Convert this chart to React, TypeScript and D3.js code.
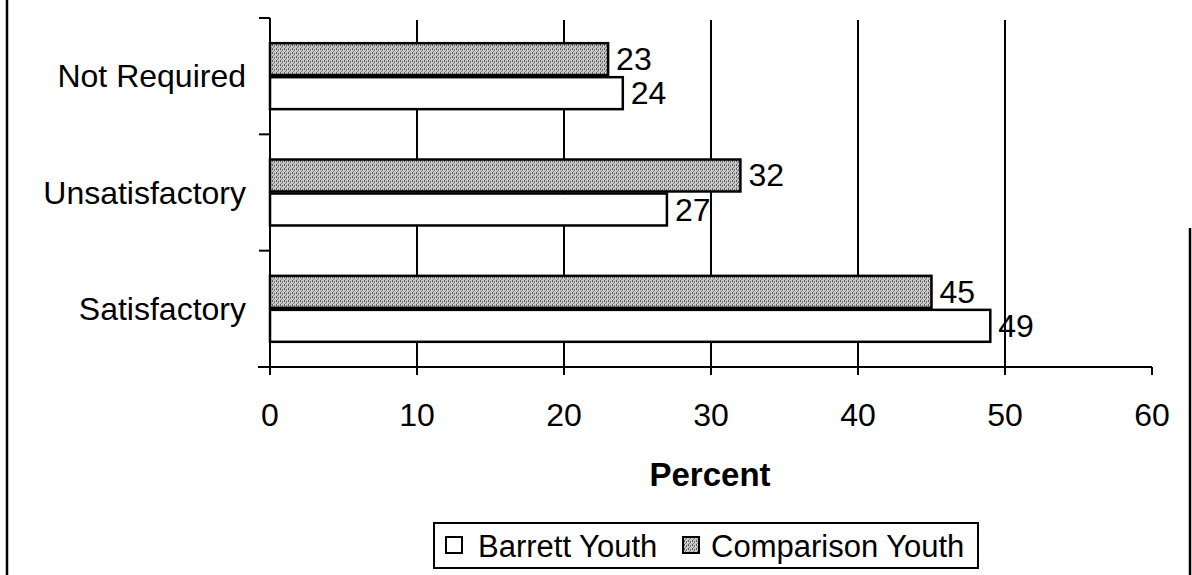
import React from "react";
import * as d3 from "d3";

const categories = ["Not Required", "Unsatisfactory", "Satisfactory"];
const seriesKeys = ["Comparison Youth", "Barrett Youth"];
const comparisonValues = [23, 32, 45];
const barrettValues = [24, 27, 49];
const xTickValues = [0, 10, 20, 30, 40, 50, 60];
const legendLabels = ["Barrett Youth", "Comparison Youth"];
const axisTitle = "Percent";

const W = 1192;
const H = 575;
const FONT = "'Liberation Sans', Arial, Helvetica, sans-serif";

export default function App() {
  const plotTop = 18;
  const plotBottom = 367;
  const x = d3.scaleLinear().domain([0, 60]).range([270, 1152]);
  const y = d3
    .scaleBand<string>()
    .domain(categories)
    .range([plotTop, plotBottom])
    .paddingInner(0.433)
    .paddingOuter(0.2165);
  const inner = d3
    .scaleBand<string>()
    .domain(seriesKeys)
    .range([0, y.bandwidth()])
    .paddingInner(0.06);
  const step = y.step();
  const catTicks = d3.range(categories.length + 1).map((k) => plotTop + k * step);

  const valuesFor = (key: string) => (key === "Comparison Youth" ? comparisonValues : barrettValues);

  return (
    <svg
      width={W}
      height={H}
      viewBox={`0 0 ${W} ${H}`}
      style={{ position: "absolute", left: 0, top: 0, background: "#fff" }}
    >
      <defs>
        <pattern id="dither" width="4" height="4" patternUnits="userSpaceOnUse">
          <rect width="4" height="4" fill="#c4c4c4" />
          <rect x="0" y="0" width="1" height="2" fill="#5a5a5a" />
          <rect x="2" y="1" width="1" height="2" fill="#6e6e6e" />
          <rect x="1" y="3" width="1" height="1" fill="#808080" />
          <rect x="3" y="2" width="1" height="1" fill="#e4e4e4" />
          <rect x="1" y="0" width="1" height="1" fill="#e0e0e0" />
        </pattern>
      </defs>
      <rect width={W} height={H} fill="#fff" />

      {/* outer frame remnants */}
      <line x1={7} x2={7} y1={0} y2={H} stroke="#000" strokeWidth={2.5} />
      <line x1={1190} x2={1190} y1={228} y2={H} stroke="#000" strokeWidth={2.5} />

      {/* vertical gridlines */}
      {xTickValues.slice(1, -1).map((t) => (
        <line key={"g" + t} x1={x(t)} x2={x(t)} y1={plotTop + 2} y2={plotBottom + 8} stroke="#000" strokeWidth={2} />
      ))}
      <line x1={x(60)} x2={x(60)} y1={plotBottom} y2={plotBottom + 8} stroke="#000" strokeWidth={2} />

      {/* x axis */}
      <line x1={258} x2={x(60)} y1={plotBottom} y2={plotBottom} stroke="#000" strokeWidth={2} />
      {/* y axis */}
      <line x1={x(0)} x2={x(0)} y1={plotTop} y2={plotBottom + 8} stroke="#000" strokeWidth={2} />
      {catTicks.map((t, i) => (
        <line key={"ct" + i} x1={259} x2={x(0)} y1={t} y2={t} stroke="#000" strokeWidth={2} />
      ))}

      {/* bars */}
      {categories.map((c, i) => (
        <g key={c}>
          {seriesKeys.map((k) => {
            const v = valuesFor(k)[i];
            const by = (y(c) as number) + (inner(k) as number);
            const bh = inner.bandwidth();
            return (
              <g key={k}>
                <rect
                  x={x(0)}
                  y={by}
                  width={x(v) - x(0)}
                  height={bh}
                  fill={k === "Comparison Youth" ? "url(#dither)" : "#fff"}
                  stroke="#000"
                  strokeWidth={2.5}
                />
                <text
                  x={x(v) + 8}
                  y={by + bh / 2}
                  dominantBaseline="central"
                  fontFamily={FONT}
                  fontSize={32}
                  fill="#000"
                >
                  {v}
                </text>
              </g>
            );
          })}
          <text
            x={246}
            y={(y(c) as number) + y.bandwidth() / 2}
            textAnchor="end"
            dominantBaseline="central"
            fontFamily={FONT}
            fontSize={32}
            fill="#000"
          >
            {c}
          </text>
        </g>
      ))}

      {/* x tick labels */}
      {xTickValues.map((t) => (
        <text
          key={"xl" + t}
          x={x(t)}
          y={415}
          textAnchor="middle"
          dominantBaseline="central"
          fontFamily={FONT}
          fontSize={32}
          fill="#000"
        >
          {t}
        </text>
      ))}

      {/* axis title */}
      <text
        x={710}
        y={474}
        textAnchor="middle"
        dominantBaseline="central"
        fontFamily={FONT}
        fontSize={33}
        fontWeight="bold"
        fill="#000"
      >
        {axisTitle}
      </text>

      {/* legend */}
      <rect x={434} y={523} width={544} height={45} fill="#fff" stroke="#000" strokeWidth={2} />
      <rect x={446} y={537} width={16} height={16} fill="#fff" stroke="#000" strokeWidth={2} />
      <text x={478} y={546} dominantBaseline="central" fontFamily={FONT} fontSize={31} fill="#000">
        {legendLabels[0]}
      </text>
      <rect x={683} y={537} width={16} height={16} fill="url(#dither)" stroke="#000" strokeWidth={2} />
      <text x={711} y={546} dominantBaseline="central" fontFamily={FONT} fontSize={31} fill="#000">
        {legendLabels[1]}
      </text>
    </svg>
  );
}
